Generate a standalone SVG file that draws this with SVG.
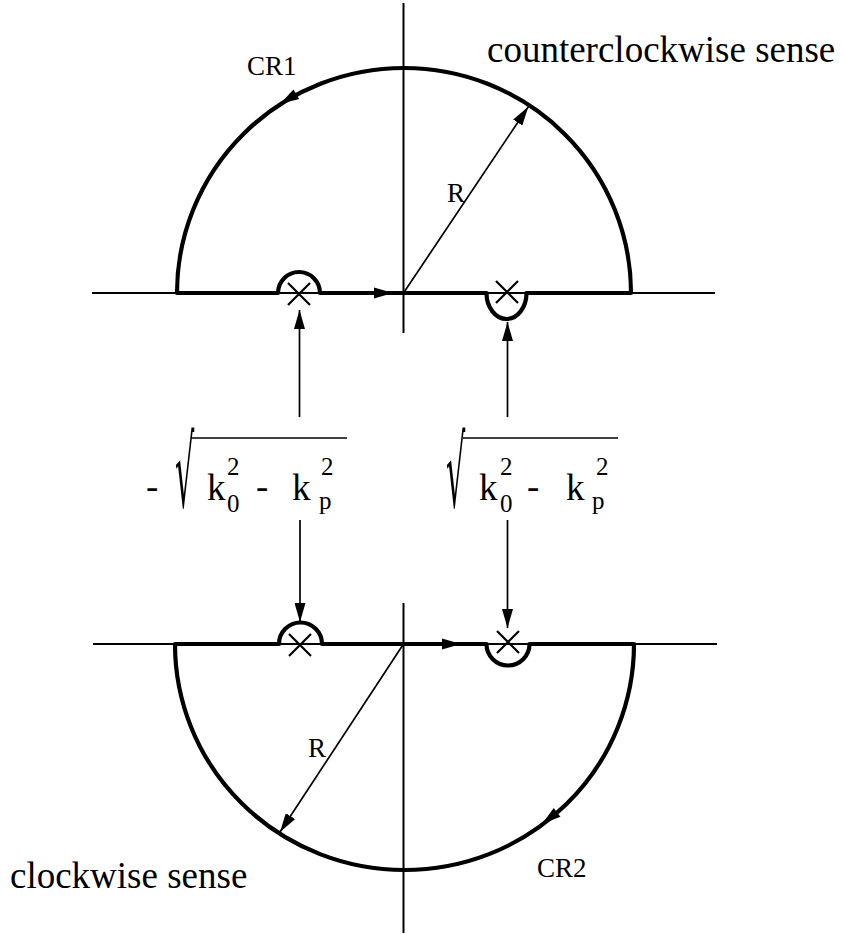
<svg xmlns="http://www.w3.org/2000/svg" xmlns:xlink="http://www.w3.org/1999/xlink" width="843" height="934" viewBox="0 0 843 934">
<style>
.axis{stroke:#000;stroke-width:2;fill:none}
.contour{stroke:#000;stroke-width:4.2;fill:none;stroke-linejoin:round}
.thin{stroke:#000;stroke-width:1.7;fill:none}
.pole{stroke:#000;stroke-width:2.2;fill:none}
.t{font-family:"Liberation Serif","Times New Roman",serif;fill:#000}
.rad{font-family:"DejaVu Sans",sans-serif;font-size:72px;fill:#000}
.big{font-size:37px}
.lab{font-size:27px}
.sm{font-size:25px}
</style>
<defs>
<path id="ah" d="M0,0 L-19,-5.5 L-19,5.5 Z" fill="#000"/>
<marker id="arr" viewBox="0 0 19 11" refX="19" refY="5.5" markerWidth="19" markerHeight="11" markerUnits="userSpaceOnUse" orient="auto">
<path d="M0,0 L19,5.5 L0,11 Z" fill="#000"/>
</marker>
</defs>
<rect width="843" height="934" fill="#fff"/>

<g id="upper-plane">
<line class="axis" x1="403.5" y1="3" x2="403.5" y2="333"/>
<line class="axis" x1="92" y1="293" x2="715" y2="293"/>
<path class="contour" d="M177,293 L278,293 A21,21 0 0 1 320,293 L486.5,293 A20,26 0 0 0 526.5,293 L631,293 A227,225 0 0 0 177,293 Z"/>
<path class="pole" d="M288,283 L310,305 M310,283 L288,305"/>
<path class="pole" d="M496,281 L518,303 M518,281 L496,303"/>
<use xlink:href="#ah" href="#ah" transform="translate(393,293)"/>
<use xlink:href="#ah" href="#ah" transform="translate(280,104) rotate(149)"/>
<line class="thin" x1="403.5" y1="293" x2="528.3" y2="106.7" marker-end="url(#arr)"/>
<text class="t lab" x="447" y="202">R</text>
<text class="t lab" x="247" y="75">CR1</text>
<text class="t big" x="487" y="62">counterclockwise sense</text>
</g>

<g id="lower-plane">
<line class="axis" x1="403.5" y1="603" x2="403.5" y2="933"/>
<line class="axis" x1="93" y1="644" x2="717" y2="644"/>
<path class="contour" d="M175,644 L279,644 A21.5,21.5 0 0 1 322,644 L486.5,644 A21.5,21.5 0 0 0 529.5,644 L634,644 A229.5,226 0 0 1 175,644 Z"/>
<path class="pole" d="M289,634 L311,656 M311,634 L289,656"/>
<path class="pole" d="M497,631 L519,653 M519,631 L497,653"/>
<use xlink:href="#ah" href="#ah" transform="translate(461,644)"/>
<use xlink:href="#ah" href="#ah" transform="translate(542,824) rotate(142.5)"/>
<line class="thin" x1="403.5" y1="644" x2="280" y2="832" marker-end="url(#arr)"/>
<text class="t lab" x="308" y="757">R</text>
<text class="t lab" x="537" y="877">CR2</text>
<text class="t big" x="10" y="888">clockwise sense</text>
</g>

<g id="formula-left">
<text class="t big" x="146" y="499">-</text>
<text class="rad" transform="translate(175,507) scale(0.42,1.36)">√</text>
<line class="thin" x1="191" y1="438" x2="347" y2="438" stroke-width="2"/>
<text class="t big" x="207" y="500">k</text>
<text class="t sm" x="227" y="475">2</text>
<text class="t sm" x="227" y="512">0</text>
<text class="t big" x="256" y="499">-</text>
<text class="t big" x="292" y="500">k</text>
<text class="t sm" x="321" y="475">2</text>
<text class="t sm" x="319" y="509">p</text>
</g>

<g id="formula-right">
<text class="rad" transform="translate(446,507) scale(0.42,1.36)">√</text>
<line class="thin" x1="463" y1="438" x2="618" y2="438" stroke-width="2"/>
<text class="t big" x="479" y="500">k</text>
<text class="t sm" x="500" y="475">2</text>
<text class="t sm" x="500" y="512">0</text>
<text class="t big" x="527" y="499">-</text>
<text class="t big" x="566" y="500">k</text>
<text class="t sm" x="596" y="475">2</text>
<text class="t sm" x="592" y="509">p</text>
</g>

<g id="connectors">
<line class="thin" x1="299.5" y1="417" x2="299.5" y2="310" marker-end="url(#arr)"/>
<line class="thin" x1="507.5" y1="417" x2="507.5" y2="322" marker-end="url(#arr)"/>
<line class="thin" x1="300" y1="520" x2="300" y2="622" marker-end="url(#arr)"/>
<line class="thin" x1="507.5" y1="520" x2="507.5" y2="628" marker-end="url(#arr)"/>
</g>
</svg>
